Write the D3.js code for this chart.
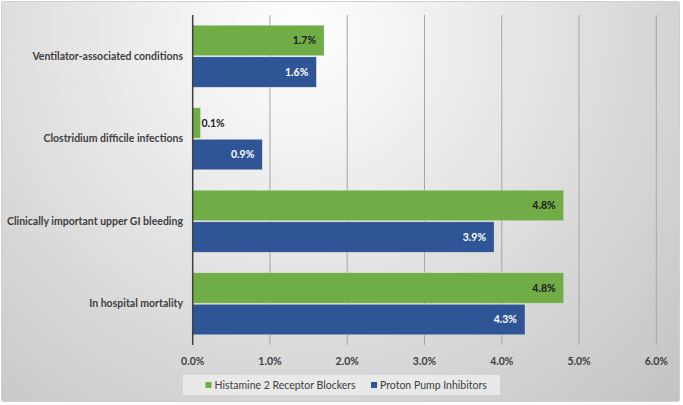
<!DOCTYPE html>
<html><head><meta charset="utf-8">
<script src="https://cdn.jsdelivr.net/npm/d3@7"></script>
<style>html,body{margin:0;padding:0;background:#fff;}svg{display:block;}</style>
</head><body>
<script>
const categories = ["Ventilator-associated conditions","Clostridium difficile infections","Clinically important upper GI bleeding","In hospital mortality"];
const seriesNames = ["Histamine 2 Receptor Blockers","Proton Pump Inhibitors"];
const h2rb = [1.7, 0.1, 4.8, 4.8];
const ppi = [1.6, 0.9, 3.9, 4.3];
const xTicks = [0,1,2,3,4,5,6];
const colors = ["#70AD47","#2F5597"];

const W=683,H=405;
const svg=d3.select("body").append("svg").attr("width",W).attr("height",H);
const defs=svg.append("defs");
const rg=defs.append("radialGradient").attr("id","bg").attr("gradientUnits","userSpaceOnUse")
  .attr("cx",300).attr("cy",30).attr("r",520);
rg.append("stop").attr("offset","0%").attr("stop-color","#ffffff");
rg.append("stop").attr("offset","100%").attr("stop-color","#c4c4c4");
svg.append("rect").attr("x",1.5).attr("y",1.5).attr("width",678).attr("height",400).attr("rx",2)
  .attr("fill","url(#bg)").attr("stroke","#d0d0d0").attr("stroke-width",1);

const x=d3.scaleLinear().domain([0,6]).range([192.7,656.3]);
const y=d3.scaleBand().domain(categories).range([15,345]).paddingInner(0.25).paddingOuter(0.125);
const y1=d3.scaleBand().domain(seriesNames).range([0,y.bandwidth()]).paddingInner(0.04);

// gridlines
svg.append("g").selectAll("line").data(xTicks.slice(1)).join("line")
  .attr("x1",d=>x(d)).attr("x2",d=>x(d)).attr("y1",15).attr("y2",345)
  .attr("stroke","#a6a6a6").attr("stroke-width",1);

const font="Lato, 'Open Sans', sans-serif";
const data=categories.map((c,i)=>({c,vals:[h2rb[i],ppi[i]]}));
const g=svg.append("g");
data.forEach(d=>{
  d.vals.forEach((v,j)=>{
    const yy=y(d.c)+y1(seriesNames[j]);
    g.append("rect").attr("x",x(0)).attr("y",yy).attr("width",x(v)-x(0)).attr("height",y1.bandwidth())
      .attr("fill",colors[j]).attr("stroke","#e8f0e0").attr("stroke-opacity",0.5).attr("stroke-width",0.5);
    const inside = (x(v)-x(0))>40;
    g.append("text").attr("x",inside? x(v)-8 : x(v)+1).attr("y",yy+y1.bandwidth()/2)
      .attr("dy","0.35em").attr("text-anchor",inside?"end":"start")
      .attr("font-family",font).attr("font-weight","bold").attr("font-size",10.5)
      .attr("fill", inside ? (j===0?"#1a1a1a":"#ffffff") : "#1a1a1a")
      .text(v.toFixed(1)+"%");
  });
});

// y axis line
svg.append("line").attr("x1",x(0)).attr("x2",x(0)).attr("y1",15).attr("y2",345)
  .attr("stroke","#404040").attr("stroke-width",1.5);

// category labels
svg.append("g").selectAll("text").data(categories).join("text")
  .attr("x",183).attr("y",d=>y(d)+y.bandwidth()/2).attr("dy","0.35em").attr("text-anchor","end")
  .attr("font-family",font).attr("font-weight","bold").attr("font-size",10.5).attr("fill","#404040")
  .text(d=>d);

// x tick labels
svg.append("g").selectAll("text").data(xTicks).join("text")
  .attr("x",d=>x(d)).attr("y",361).attr("dy","0.35em").attr("text-anchor","middle")
  .attr("font-family",font).attr("font-weight","bold").attr("font-size",10.5).attr("fill","#404040")
  .text(d=>d.toFixed(1)+"%");

// legend
const lg=svg.append("g");
lg.append("rect").attr("x",183).attr("y",375).attr("width",317).attr("height",20).attr("fill","#ededed").attr("opacity",0.8);
const lx=[205.5,371];
seriesNames.forEach((s,i)=>{
  lg.append("rect").attr("x",lx[i]).attr("y",382).attr("width",6).attr("height",6).attr("fill",colors[i]);
  lg.append("text").attr("x",lx[i]+9).attr("y",385.5).attr("dy","0.35em")
    .attr("font-family",font).attr("font-size",10.5).attr("fill","#404040").text(s);
});
</script>
</body></html>
